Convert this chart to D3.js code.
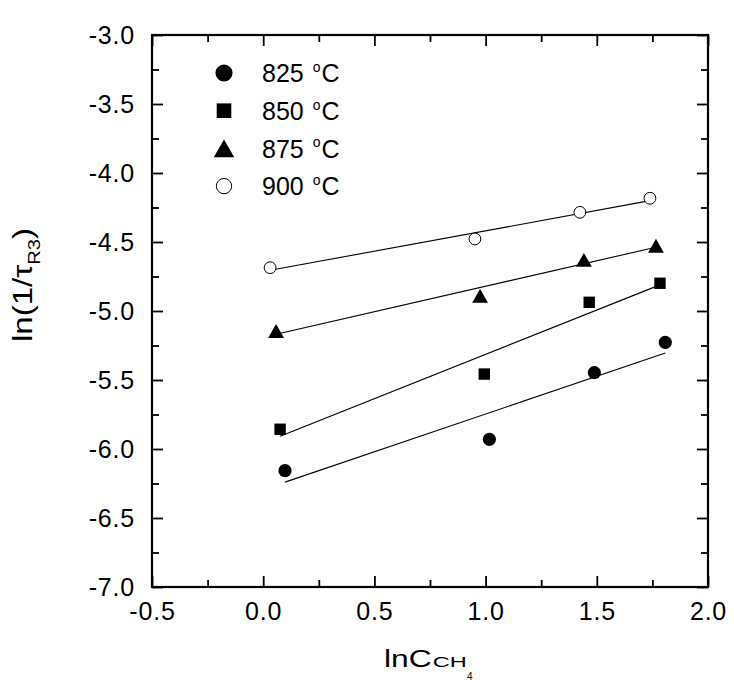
<!DOCTYPE html>
<html><head><meta charset="utf-8">
<script src="https://cdn.jsdelivr.net/npm/d3@7"></script>
<style>
body{margin:0;background:#fff}
text{font-family:"Liberation Sans",Arial,Helvetica,sans-serif;fill:#000}
</style>
</head><body>
<svg id="c" width="734" height="694"></svg>
<script>
// ---- data ----
const temps = [825, 850, 875, 900];
const markerTypes = ["circle", "square", "triangle", "opencircle"];
const x825 = [0.098, 1.017, 1.489, 1.808];
const y825 = [-6.157, -5.930, -5.447, -5.227];
const x850 = [0.076, 0.994, 1.466, 1.784];
const y850 = [-5.857, -5.457, -4.937, -4.799];
const x875 = [0.058, 0.975, 1.442, 1.766];
const y875 = [-5.145, -4.891, -4.630, -4.527];
const x900 = [0.031, 0.952, 1.424, 1.739];
const y900 = [-4.686, -4.478, -4.285, -4.183];
const xTicks = [-0.5, 0.0, 0.5, 1.0, 1.5, 2.0];
const xMinor = [-0.25, 0.25, 0.75, 1.25, 1.75];
const yTicks = [-7.0, -6.5, -6.0, -5.5, -5.0, -4.5, -4.0, -3.5, -3.0];
const yMinor = [-6.75, -6.25, -5.75, -5.25, -4.75, -4.25, -3.75, -3.25];

const seriesX = [x825, x850, x875, x900];
const seriesY = [y825, y850, y875, y900];
const series = temps.map((t, i) => ({
  temp: t, marker: markerTypes[i],
  pts: seriesX[i].map((xv, j) => ({x: xv, y: seriesY[i][j]}))
}));

// ---- layout ----
const L = 152, R = 708, T = 35, B = 587;
const svg = d3.select("#c");
const x = d3.scaleLinear().domain([-0.5, 2.0]).range([L, R]);
const y = d3.scaleLinear().domain([-7.0, -3.0]).range([B, T]);
const fmt = d => d.toFixed(1);

function styleAxis(g, sw) {
  g.select(".domain").remove();
  g.selectAll(".tick line").attr("stroke", "#000").attr("stroke-width", sw);
  g.selectAll("text").attr("font-size", 25).attr("letter-spacing", "0.8px")
    .attr("fill", "#000").style("font-family", '"Liberation Sans",Arial,sans-serif');
}
// bottom
svg.append("g").attr("transform", `translate(0,${B})`)
  .call(d3.axisBottom(x).tickValues(xTicks).tickFormat(fmt).tickSize(-11).tickSizeOuter(0).tickPadding(15))
  .call(g => styleAxis(g, 1.8));
svg.append("g").attr("transform", `translate(0,${B})`)
  .call(d3.axisBottom(x).tickValues(xMinor).tickFormat("").tickSize(-7).tickSizeOuter(0))
  .call(g => styleAxis(g, 1.8));
// top
svg.append("g").attr("transform", `translate(0,${T})`)
  .call(d3.axisTop(x).tickValues(xTicks).tickFormat("").tickSize(-11).tickSizeOuter(0))
  .call(g => styleAxis(g, 1.8));
svg.append("g").attr("transform", `translate(0,${T})`)
  .call(d3.axisTop(x).tickValues(xMinor).tickFormat("").tickSize(-7).tickSizeOuter(0))
  .call(g => styleAxis(g, 1.8));
// left
svg.append("g").attr("transform", `translate(${L},0)`)
  .call(d3.axisLeft(y).tickValues(yTicks).tickFormat(fmt).tickSize(-11).tickSizeOuter(0).tickPadding(17))
  .call(g => styleAxis(g, 1.8));
svg.append("g").attr("transform", `translate(${L},0)`)
  .call(d3.axisLeft(y).tickValues(yMinor).tickFormat("").tickSize(-7).tickSizeOuter(0))
  .call(g => styleAxis(g, 1.8));
// right
svg.append("g").attr("transform", `translate(${R},0)`)
  .call(d3.axisRight(y).tickValues(yTicks).tickFormat("").tickSize(-11).tickSizeOuter(0))
  .call(g => styleAxis(g, 1.8));
svg.append("g").attr("transform", `translate(${R},0)`)
  .call(d3.axisRight(y).tickValues(yMinor).tickFormat("").tickSize(-7).tickSizeOuter(0))
  .call(g => styleAxis(g, 1.8));

// frame
svg.append("rect").attr("x", L).attr("y", T).attr("width", R - L).attr("height", B - T)
  .attr("fill", "none").attr("stroke", "#000").attr("stroke-width", 2.2);

// ---- fit lines (least squares over each series' data range) ----
series.forEach(s => {
  const xs = s.pts.map(p => p.x), ys = s.pts.map(p => p.y);
  const mx = d3.mean(xs), my = d3.mean(ys);
  const slope = d3.sum(xs.map((v, i) => (v - mx) * (ys[i] - my))) / d3.sum(xs.map(v => (v - mx) ** 2));
  const f = v => my + slope * (v - mx);
  const [x0, x1] = d3.extent(xs);
  svg.append("line")
    .attr("x1", x(x0)).attr("y1", y(f(x0)))
    .attr("x2", x(x1)).attr("y2", y(f(x1)))
    .attr("stroke", "#000").attr("stroke-width", 1.1);
});

// ---- markers ----
function marker(g, type, k) {
  if (type === "circle") {
    g.append("circle").attr("r", 6.6 * k).attr("fill", "#000");
  } else if (type === "square") {
    const a = 11.4 * k;
    g.append("rect").attr("x", -a / 2).attr("y", -a / 2).attr("width", a).attr("height", a).attr("fill", "#000");
  } else if (type === "triangle") {
    const w = 15.8 * k, h = 13.8 * k;
    g.append("path").attr("d", `M0,${-h / 2}L${w / 2},${h / 2}L${-w / 2},${h / 2}Z`).attr("fill", "#000");
  } else {
    g.append("circle").attr("r", 5.9 * k).attr("fill", "#fff").attr("stroke", "#000").attr("stroke-width", 1);
  }
}
series.forEach(s => {
  s.pts.forEach(p => {
    const g = svg.append("g").attr("transform", `translate(${x(p.x)},${y(p.y)})`);
    marker(g, s.marker, 1);
  });
});

// ---- legend ----
const legX = 224, legY0 = 73, legDy = 37.7;
series.forEach((s, i) => {
  const cy = legY0 + i * legDy;
  const g = svg.append("g").attr("transform", `translate(${legX},${cy})`);
  marker(g, s.marker, s.marker === "triangle" ? 1.3 : (s.marker === "square" ? 1.28 : 1.3));
  const t = svg.append("text").attr("x", 262).attr("y", cy + 9.3).attr("font-size", 25);
  t.append("tspan").text(s.temp + " ");
  t.append("tspan").attr("font-size", 14).attr("dx", 2).attr("dy", -10.3).text("o");
  t.append("tspan").attr("dx", 1).attr("dy", 10.3).text("C");
});

// ---- axis titles ----
const xt = svg.append("text").attr("y", 667.3);
xt.append("tspan").attr("x", 384).attr("font-size", 23).attr("textLength", 47.7)
  .attr("lengthAdjust", "spacingAndGlyphs").text("lnC");
xt.append("tspan").attr("x", 432.7).attr("font-size", 15).attr("textLength", 34)
  .attr("lengthAdjust", "spacingAndGlyphs").text("CH");
svg.append("text").attr("x", 467).attr("y", 680).attr("font-size", 10).text("4");

const yt = svg.append("text").attr("transform", "translate(32,342) rotate(-90)")
  .attr("font-size", 28).attr("textLength", 114).attr("lengthAdjust", "spacingAndGlyphs");
yt.append("tspan").text("ln(1/τ");
yt.append("tspan").attr("font-size", 17).attr("dy", 8).text("R3");
yt.append("tspan").attr("dy", -8).text(")");
</script>
</body></html>
